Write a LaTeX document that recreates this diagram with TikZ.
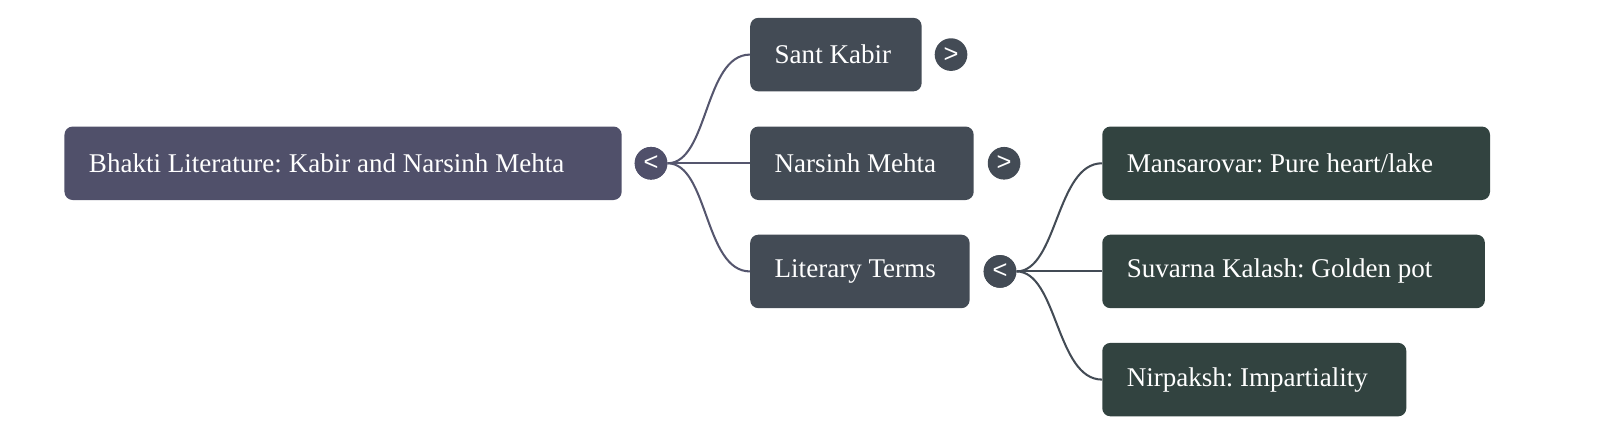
\documentclass[tikz,border=0pt]{standalone}
\usepackage{fontspec}
\setmainfont{Liberation Serif}
\newfontfamily\togfont{Liberation Sans}
\frenchspacing
\definecolor{rootc}{HTML}{50506A}
\definecolor{midc}{HTML}{434B55}
\definecolor{leafc}{HTML}{324340}
\definecolor{rootedge}{HTML}{55566E}
\newcommand{\lbl}[2]{\makebox[#1pt][l]{#2}}
\tikzset{
  box/.style={draw=none, rounded corners=8pt, minimum height=72pt, inner xsep=24pt, inner ysep=0pt,
    anchor=west, text=white, font=\fontsize{26.5}{30}\selectfont\frenchspacing},
  tog/.style={circle, minimum size=32pt, inner sep=0pt, text=white, font=\togfont\fontsize{25}{25}\selectfont},
  link/.style={line width=2pt}
}
\begin{document}
\begin{tikzpicture}[x=1pt,y=-1pt]
\useasboundingbox (0,0) rectangle (1568,426.3);
% nodes
\node[box, fill=rootc] (root) at (63,160) {\lbl{498}{Bhakti Literature: Kabir and Narsinh Mehta}};
\node[tog, fill=rootc] (trt) at (638,160) {<};
\node[box, fill=midc] (kabir) at (735,53.5) {\lbl{120}{Sant Kabir}};
\node[tog, fill=midc] (tkab) at (932,53.5) {>};
\node[box, fill=midc] (narsinh) at (735,160) {\lbl{171}{Narsinh Mehta}};
\node[tog, fill=midc] (tnar) at (984,160) {>};
\node[box, fill=midc] (terms) at (735,266) {\lbl{167}{Literary Terms}};
\node[tog, fill=midc] (tterm) at (980,266) {<};
\node[box, fill=leafc] (mans) at (1080,160) {\lbl{332}{Mansarovar: Pure heart/lake}};
\node[box, fill=leafc] (suv) at (1080,266) {\lbl{327}{Suvarna Kalash: Golden pot}};
\node[box, fill=leafc] (nir) at (1080,372) {\lbl{250}{Nirpaksh: Impartiality}};
% connectors
\begin{scope}[link, draw=rootedge]
\draw (trt.east) .. controls ++(40,0) and ++(-45,0) .. (kabir.west);
\draw (trt.east) -- (narsinh.west);
\draw (trt.east) .. controls ++(40,0) and ++(-45,0) .. (terms.west);
\end{scope}
\begin{scope}[link, draw=midc]
\draw (tterm.east) .. controls ++(40,0) and ++(-45,0) .. (mans.west);
\draw (tterm.east) -- (suv.west);
\draw (tterm.east) .. controls ++(40,0) and ++(-45,0) .. (nir.west);
\end{scope}
\node[tog, fill=rootc] at (trt) {<};
\node[tog, fill=midc] at (tterm) {<};
\end{tikzpicture}
\end{document}
